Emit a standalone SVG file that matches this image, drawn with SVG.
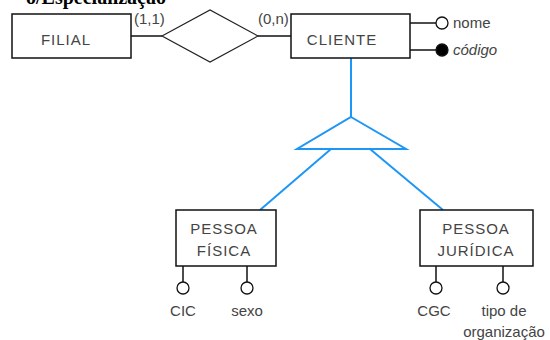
<svg xmlns="http://www.w3.org/2000/svg" width="550" height="340" viewBox="0 0 550 340">
  <style>
    .box { fill: #fff; stroke: #111; stroke-width: 1.5; }
    .rel { fill: #fff; stroke: #222; stroke-width: 1.2; }
    .ln { stroke: #111; stroke-width: 1.5; fill: none; }
    .isa { stroke: #1e96f5; stroke-width: 2; fill: none; stroke-linejoin: miter; }
    .att { fill: #fff; stroke: #111; stroke-width: 1.3; }
    .attk { fill: #000; stroke: #111; stroke-width: 1.3; }
    .lbl { font-family: "Liberation Sans", "DejaVu Sans", sans-serif; font-size: 15px; letter-spacing: 1px; fill: #444; text-anchor: middle; }
    .al { font-family: "Liberation Sans", "DejaVu Sans", sans-serif; font-size: 15px; fill: #444; }
    .title { font-family: "Liberation Serif", "DejaVu Serif", serif; font-weight: bold; font-size: 20px; fill: #000; text-anchor: end; }
  </style>

  <text class="title" x="166" y="4">o/Especialização</text>

  <g id="connectors">
    <line class="ln" x1="131" y1="36" x2="162" y2="36"/>
    <line class="ln" x1="258" y1="36" x2="291" y2="36"/>
    <line class="ln" x1="410" y1="23" x2="436" y2="23"/>
    <line class="ln" x1="410" y1="50" x2="436" y2="50"/>
    <line class="ln" x1="183" y1="266" x2="183" y2="282"/>
    <line class="ln" x1="247" y1="266" x2="247" y2="282"/>
    <line class="ln" x1="436" y1="266" x2="436" y2="282"/>
    <line class="ln" x1="503" y1="266" x2="503" y2="282"/>
    <!-- specialization links -->
    <line class="isa" x1="351" y1="58" x2="351" y2="117"/>
    <line class="isa" x1="331" y1="149" x2="260" y2="210"/>
    <line class="isa" x1="370" y1="149" x2="443" y2="210"/>
    <text class="al" x="134" y="24">(1,1)</text>
    <text class="al" x="258" y="24">(0,n)</text>
  </g>

  <g id="filial">
    <rect class="box" x="12" y="14" width="119" height="44"/>
    <text class="lbl" x="66" y="45">FILIAL</text>
  </g>

  <g id="relacionamento">
    <polygon class="rel" points="162,36 210,10 258,36 210,62"/>
  </g>

  <g id="cliente">
    <rect class="box" x="291" y="14" width="119" height="44"/>
    <text class="lbl" x="342" y="45">CLIENTE</text>
  </g>

  <g id="attr-nome">
    <circle class="att" cx="442" cy="23" r="6"/>
    <text class="al" x="453" y="28">nome</text>
  </g>

  <g id="attr-codigo">
    <circle class="attk" cx="442" cy="50" r="6"/>
    <text class="al" x="453" y="55" font-style="italic">código</text>
  </g>

  <g id="especializacao">
    <polygon class="isa" points="351,117 406,149 297,149"/>
  </g>

  <g id="pessoa-fisica">
    <rect class="box" x="176" y="210" width="100" height="56"/>
    <text class="lbl" x="224" y="234">PESSOA</text>
    <text class="lbl" x="224" y="256">FÍSICA</text>
  </g>

  <g id="pessoa-juridica">
    <rect class="box" x="420" y="210" width="113" height="56"/>
    <text class="lbl" x="476" y="234">PESSOA</text>
    <text class="lbl" x="476" y="256">JURÍDICA</text>
  </g>

  <g id="attr-cic">
    <circle class="att" cx="183" cy="288" r="6"/>
    <text class="al" x="183" y="316" text-anchor="middle">CIC</text>
  </g>

  <g id="attr-sexo">
    <circle class="att" cx="247" cy="288" r="6"/>
    <text class="al" x="247" y="316" text-anchor="middle">sexo</text>
  </g>

  <g id="attr-cgc">
    <circle class="att" cx="436" cy="288" r="6"/>
    <text class="al" x="434" y="316" text-anchor="middle">CGC</text>
  </g>

  <g id="attr-tipo">
    <circle class="att" cx="503" cy="288" r="6"/>
    <text class="al" x="504" y="316" text-anchor="middle">tipo de</text>
    <text class="al" x="504" y="337" text-anchor="middle">organização</text>
  </g>
</svg>
